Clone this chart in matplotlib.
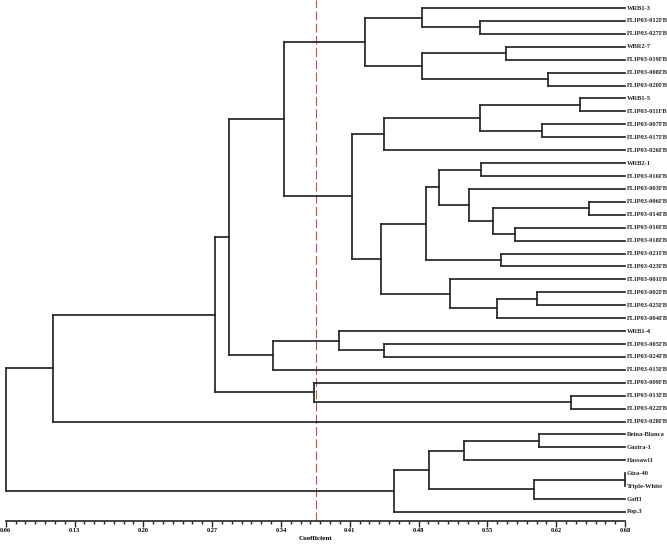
import matplotlib
matplotlib.use("Agg")
import matplotlib.pyplot as plt
import numpy as np

# ---------------- data ----------------
# Each merge: [child_a, child_b, coefficient]; children are leaf names or indices of earlier merges
merges = [
    ["FLIP03-012FB", "FLIP03-027FB", 0.539],   # 0
    ["WRB1-3", 0, 0.480],                      # 1
    ["WBR2-7", "FLIP03-019FB", 0.565],         # 2
    ["FLIP03-008FB", "FLIP03-020FB", 0.607],   # 3
    [2, 3, 0.480],                             # 4
    [1, 4, 0.423],                             # 5
    ["WRB1-5", "FLIP03-011FB", 0.640],         # 6
    ["FLIP03-007FB", "FLIP03-017FB", 0.601],   # 7
    [6, 7, 0.539],                             # 8
    [8, "FLIP03-026FB", 0.442],                # 9
    ["WRB2-1", "FLIP03-016FB", 0.540],         # 10
    ["FLIP03-006FB", "FLIP03-014FB", 0.649],   # 11
    ["FLIP03-010FB", "FLIP03-018FB", 0.574],   # 12
    [11, 12, 0.552],                           # 13
    ["FLIP03-003FB", 13, 0.528],               # 14
    [10, 14, 0.497],                           # 15
    ["FLIP03-021FB", "FLIP03-023FB", 0.560],   # 16
    [15, 16, 0.484],                           # 17
    ["FLIP03-002FB", "FLIP03-025FB", 0.596],   # 18
    [18, "FLIP03-004FB", 0.556],               # 19
    ["FLIP03-001FB", 19, 0.508],               # 20
    [17, 20, 0.439],                           # 21
    [9, 21, 0.409],                            # 22
    [5, 22, 0.341],                            # 23
    ["FLIP03-005FB", "FLIP03-024FB", 0.442],   # 24
    ["WRB1-4", 24, 0.396],                     # 25
    [25, "FLIP03-015FB", 0.330],               # 26
    [23, 26, 0.285],                           # 27
    ["FLIP03-013FB", "FLIP03-022FB", 0.630],   # 28
    ["FLIP03-009FB", 28, 0.371],               # 29
    [27, 29, 0.271],                           # 30
    [30, "FLIP03-028FB", 0.108],               # 31
    ["Reina-Blanca", "Gazira-1", 0.598],       # 32
    [32, "Hassawi1", 0.523],                   # 33
    ["Giza-40", "Triple-White", 0.685],        # 34
    [34, "Goff1", 0.593],                      # 35
    [33, 35, 0.487],                           # 36
    [36, "Pop.3", 0.452],                      # 37
    [31, 37, 0.060],                           # 38 root
]
cut_value = 0.373
x_min, x_max = 0.06, 0.685
tick_labels = ["0.06", "0.13", "0.20", "0.27", "0.34", "0.41", "0.48", "0.55", "0.62", "0.68"]
x_label = "Coefficient"

# ---------------- layout ----------------
W, H = 667, 544
fig = plt.figure(figsize=(W / 100, H / 100), dpi=100)
ax_left, ax_right = 5.7 / W, 625 / W
ax_bottom = 1 - 521 / H
ax = fig.add_axes([ax_left, ax_bottom, ax_right - ax_left, 1 - ax_bottom])

# leaf order by traversal
order = []
def collect(node):
    if isinstance(node, str):
        order.append(node)
    else:
        a, b, _ = merges[node]
        collect(a)
        collect(b)
collect(len(merges) - 1)
leaf_y = {name: i for i, name in enumerate(order)}

LC = "#262626"
LW = 1.25
positions = {}
def pos(node):
    if isinstance(node, str):
        return leaf_y[node], x_max
    if node in positions:
        return positions[node]
    a, b, h = merges[node]
    ya, xa = pos(a)
    yb, xb = pos(b)
    ax.plot([h, h], [ya, yb], color=LC, lw=LW, solid_capstyle="projecting", clip_on=False)
    ax.plot([h, xa], [ya, ya], color=LC, lw=LW, solid_capstyle="projecting", clip_on=False)
    ax.plot([h, xb], [yb, yb], color=LC, lw=LW, solid_capstyle="projecting", clip_on=False)
    positions[node] = ((ya + yb) / 2, h)
    return positions[node]
pos(len(merges) - 1)

# leaf labels
for name, y in leaf_y.items():
    ax.annotate(name, (x_max, y), xytext=(1.5, 0), textcoords="offset points",
                ha="left", va="center", fontsize=4.7, fontweight="bold",
                family="Liberation Serif", color="#222222", annotation_clip=False)

# cut line
ax.axvline(cut_value, color="#c0504d", lw=0.8, ls=(0, (8, 3)), zorder=0, clip_on=False)

# axes formatting
n = len(order)
px_per_leaf = (512 - 8) / (n - 1)
ax.set_ylim((521 - 8) / px_per_leaf, -8 / px_per_leaf)
ax.set_xlim(x_min, x_max)
for s in ["top", "left", "right"]:
    ax.spines[s].set_visible(False)
ax.spines["bottom"].set_color(LC)
ax.spines["bottom"].set_linewidth(1.2)
ax.set_yticks([])
ax.set_xticks(np.linspace(x_min, x_max, len(tick_labels)))
ax.set_xticklabels(tick_labels, fontsize=4.6, fontweight="bold", family="Liberation Serif")
ax.set_xticks(np.linspace(x_min, x_max, (len(tick_labels) - 1) * 7 + 1), minor=True)
ax.tick_params(axis="x", which="major", direction="out", length=4, width=1, pad=1, color=LC)
ax.tick_params(axis="x", which="minor", direction="out", length=2.5, width=1, color=LC)
ax.set_xlabel(x_label, fontsize=5.2, fontweight="bold", family="Liberation Serif", labelpad=2)
ax.patch.set_alpha(0)

fig.savefig("out.png", dpi=100)
